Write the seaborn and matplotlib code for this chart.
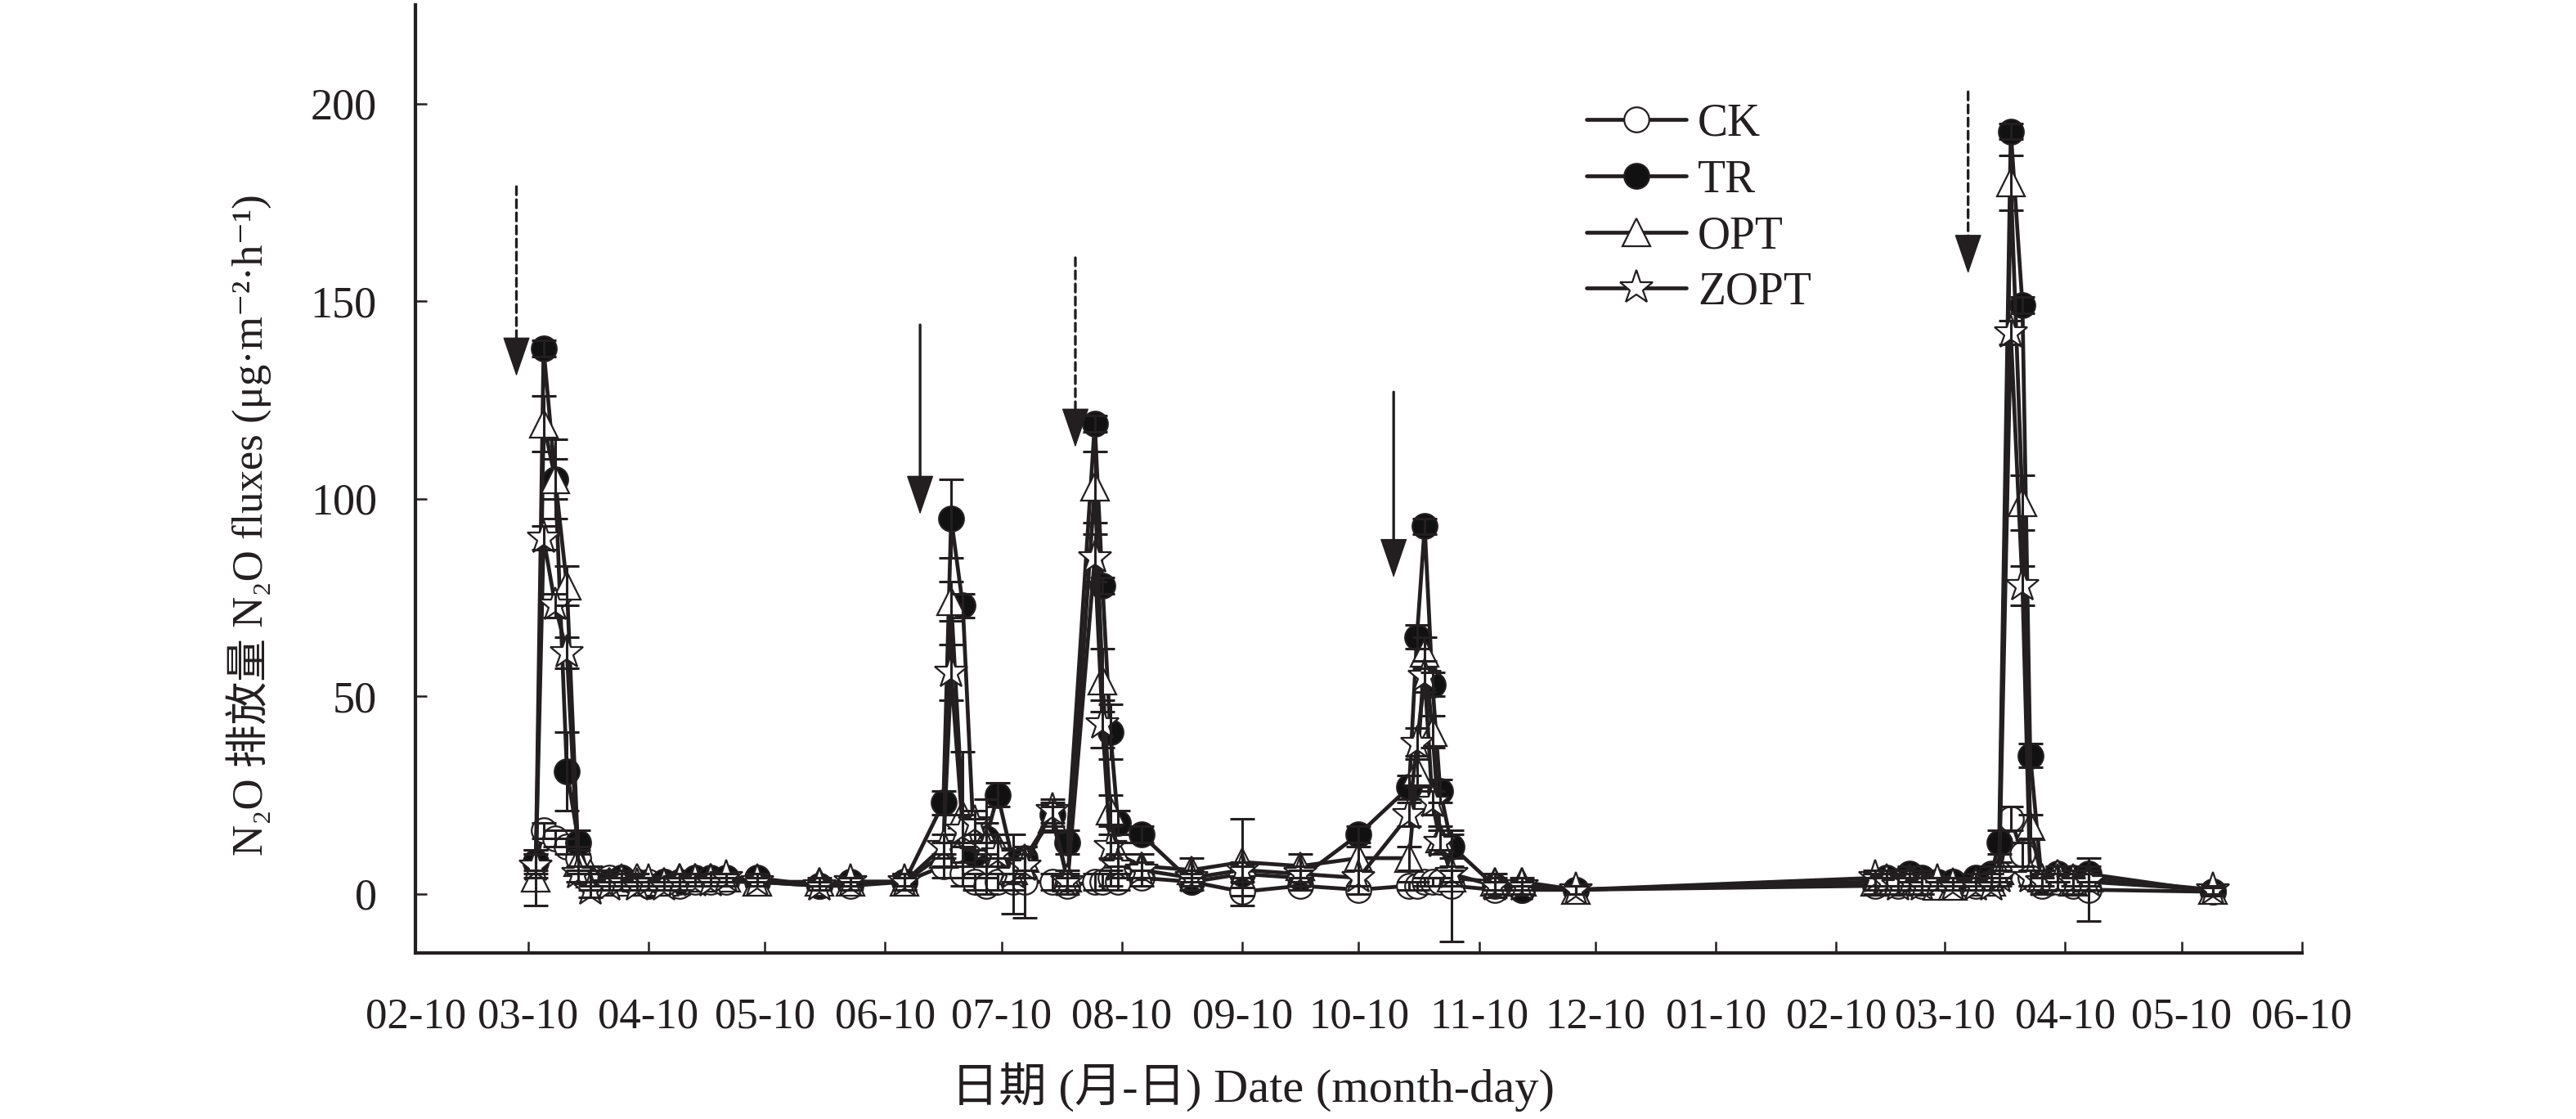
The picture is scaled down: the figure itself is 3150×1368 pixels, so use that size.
import pandas as pd
import matplotlib
matplotlib.use("Agg")
import matplotlib.pyplot as plt
import matplotlib.dates as mdates
import seaborn as sns

# sampling dates (2020-2021 season)
dates = ['2020-03-12', '2020-03-14', '2020-03-17', '2020-03-20', '2020-03-23', '2020-03-26',
         '2020-03-31', '2020-04-03', '2020-04-07', '2020-04-10', '2020-04-14', '2020-04-18',
         '2020-04-22', '2020-04-26', '2020-04-30', '2020-05-08', '2020-05-24', '2020-06-01',
         '2020-06-15', '2020-06-25', '2020-06-27', '2020-06-30', '2020-07-03', '2020-07-06',
         '2020-07-09', '2020-07-13', '2020-07-16', '2020-07-23', '2020-07-27', '2020-08-03',
         '2020-08-05', '2020-08-07', '2020-08-09', '2020-08-15', '2020-08-28', '2020-09-10',
         '2020-09-25', '2020-10-10', '2020-10-23', '2020-10-25', '2020-10-27', '2020-10-29',
         '2020-10-31', '2020-11-03', '2020-11-14', '2020-11-21', '2020-12-05', '2021-02-20',
         '2021-02-23', '2021-02-26', '2021-03-01', '2021-03-04', '2021-03-08', '2021-03-12',
         '2021-03-18', '2021-03-22', '2021-03-24', '2021-03-27', '2021-03-30', '2021-04-01',
         '2021-04-04', '2021-04-08', '2021-04-12', '2021-04-16', '2021-05-18']

# N2O fluxes, ug m-2 h-1
ck = [8, 16, 14, 12, 9, 4, 4, 4, 3, 3, 3, 2, 3, 3, 3, 3, 2, 2,
      3, 7, 10, 5, 3, 2, 3, 3, 3, 3, 2, 3, 3, 4, 3, 4, 3, 0.5,
      2, 1, 2, 2, 3, 3, 3, 2, 1, 1, 1, 2, 3, 2, 3, 2, 2, 3,
      2, 3, 5, 19, 10, 4, 2, 3, 2, 1, 0.5]
tr = [8, 138, 105, 31, 13, 3, 3, 4, 3, 2, 3, 3, 4, 4, 4, 4, 2, 3,
      3, 23, 95, 73, 10, 14, 25, 8, 9, 20, 13, 119, 78, 41, 18, 15, 3, 5,
      4, 15, 27, 65, 93, 53, 26, 12, 2, 1, 1, 3, 4, 3, 5, 4, 3, 3,
      4, 5, 13, 193, 149, 35, 3, 5, 4, 5, 0.5]
opt = [4, 119, 105, 78, 8, 5, 3, 3, 4, 3, 3, 4, 4, 4, 4, 3, 3, 3,
       3, 10, 74, 20, 15, 14, 12, 6, 9, 19, 4, 103, 54, 21, 10, 7, 6, 8,
       7, 9, 9, 31, 61, 41, 14, 4, 3, 3, 1, 3, 3, 3, 4, 3, 2, 2,
       3, 3, 6, 180, 99, 17, 4, 5, 3, 4, 1]
zopt = [7, 90, 73, 61, 5, 1, 2, 3, 2, 3, 2, 3, 3, 3, 4, 3, 2, 3,
        3, 12, 56, 16, 18, 12, 10, 5, 7, 21, 3, 85, 43, 12, 7, 6, 4, 6,
        5, 4, 20, 38, 55, 23, 13, 5, 2, 2, 1, 4, 3, 2, 3, 2, 3, 2,
        2, 2, 4, 142, 78, 4, 3, 3, 3, 3, 1]

# standard errors
ck_err = [3, 2, 2, 2, 3, 2, 2, 2, 1, 1, 1, 1, 1, 1, 1, 1, 1, 1,
          1, 3, 3, 3, 2, 2, 2, 2, 9, 2, 2, 2, 2, 2, 2, 2, 1, 1,
          1, 1, 1, 1, 1, 1, 1, 14, 2, 1, 1, 2, 2, 2, 2, 2, 1, 1,
          1, 2, 2, 3, 3, 2, 2, 2, 2, 8, 1]
tr_err = [2, 2, 10, 10, 3, 2, 1, 1, 1, 1, 1, 1, 1, 1, 1, 1, 1, 1,
          2, 3, 10, 3, 3, 4, 3, 3, 3, 3, 3, 2, 2, 7, 3, 2, 2, 2,
          2, 2, 3, 3, 2, 3, 3, 3, 2, 1, 1, 2, 2, 2, 2, 2, 1, 1,
          1, 2, 3, 2, 2, 3, 2, 2, 2, 2, 1]
opt_err = [7, 7, 5, 5, 3, 2, 2, 2, 1, 1, 1, 1, 1, 1, 1, 1, 1, 1,
           2, 3, 5, 16, 4, 10, 3, 3, 3, 3, 2, 9, 8, 4, 3, 3, 3, 11,
           3, 3, 3, 4, 4, 4, 3, 2, 2, 1, 1, 2, 2, 2, 2, 2, 1, 1,
           1, 2, 2, 7, 7, 3, 2, 2, 2, 2, 1]
zopt_err = [3, 3, 3, 4, 2, 2, 1, 1, 1, 1, 1, 1, 1, 1, 1, 1, 1, 1,
            2, 3, 7, 4, 3, 3, 3, 10, 3, 3, 2, 6, 6, 3, 3, 2, 2, 2,
            2, 2, 3, 4, 4, 3, 3, 2, 1, 1, 1, 2, 2, 2, 2, 2, 1, 1,
            1, 1, 2, 3, 5, 2, 2, 2, 2, 2, 1]

# fertilisation / event arrows
arrow_dates = ['2020-03-07', '2020-06-19', '2020-07-29', '2020-10-19', '2021-03-16']
arrow_top = [179, 144, 161, 127, 203]
arrow_tip = [131, 96, 113, 80, 157]
arrow_dashed = [True, False, True, False, True]

treatments = ['CK', 'TR', 'OPT', 'ZOPT']
values = [ck, tr, opt, zopt]
errors = [ck_err, tr_err, opt_err, zopt_err]
marker_styles = {'CK': ('o', 'white', 22), 'TR': ('o', '#111111', 22),
                 'OPT': ('^', 'white', 25), 'ZOPT': ('*', 'white', 31)}

ink = '#231f20'

sns.set_theme(style='ticks')
plt.rcParams['font.family'] = ['Liberation Serif', 'DejaVu Serif', 'Noto Sans CJK SC']
plt.rcParams['text.color'] = ink
plt.rcParams['axes.labelcolor'] = ink
plt.rcParams['xtick.color'] = ink
plt.rcParams['ytick.color'] = ink

x = pd.to_datetime(dates)

fig = plt.figure(figsize=(31.5, 13.68), dpi=100)
ax = fig.add_axes([0.1613, 0.1484, 0.7323, 0.8472])

handles = []
for name, vals in zip(treatments, values):
    m, fc, ms = marker_styles[name]
    sns.lineplot(x=x, y=vals, ax=ax, color=ink, lw=3.4, marker=m, ms=ms,
                 markerfacecolor=fc, markeredgecolor=ink, markeredgewidth=1.6,
                 estimator=None, label=name, zorder=2)
    handles.append(ax.lines[-1])

for vals, err in zip(values, errors):
    ax.errorbar(x, vals, yerr=err, fmt='none', ecolor=ink, elinewidth=2.2,
                capsize=11, capthick=2.2, zorder=3)

# arrows: shaft (dashed or solid) plus a solid filled head
for d, top, tip, dashed in zip(arrow_dates, arrow_top, arrow_tip, arrow_dashed):
    t = pd.Timestamp(d)
    ax.annotate('', xy=(t, tip + 6), xytext=(t, top),
                arrowprops=dict(arrowstyle='-', lw=2.4, color=ink,
                                linestyle=(0, (3, 1.8)) if dashed else '-',
                                shrinkA=0, shrinkB=0))
    ax.annotate('', xy=(t, tip), xytext=(t, tip + 9),
                arrowprops=dict(arrowstyle='-|>,head_length=1.6,head_width=0.55',
                                mutation_scale=20, lw=1, color=ink,
                                shrinkA=0, shrinkB=0))

ax.set_xlim(pd.Timestamp('2020-02-10'), pd.Timestamp('2021-06-10'))
ax.set_ylim(-15, 225)
ax.set_yticks([0, 50, 100, 150, 200])
ax.xaxis.set_major_locator(mdates.MonthLocator(bymonthday=10))
ax.xaxis.set_major_formatter(mdates.DateFormatter('%m-%d'))

sns.despine(ax=ax)
for s in ['left', 'bottom']:
    ax.spines[s].set_linewidth(3)
    ax.spines[s].set_color(ink)
ax.tick_params(axis='x', direction='in', length=10, width=1.8, labelsize=38, pad=39)
ax.tick_params(axis='y', direction='in', length=10, width=1.8, labelsize=39, pad=34)

ax.set_xlabel('日期 (月-日) Date (month-day)', fontsize=42)
ax.set_ylabel('N₂O 排放量 N₂O fluxes (μg·m⁻²·h⁻¹)', fontsize=38)
ax.xaxis.set_label_coords(0.444, -0.115)
ax.yaxis.set_label_coords(-0.0763, 0.452)

ax.legend(handles, treatments, loc='upper left', bbox_to_anchor=(0.6159, 0.908),
          bbox_transform=fig.transFigure, frameon=False, fontsize=40,
          handlelength=2.2, handletextpad=0.25, labelspacing=0.3,
          borderpad=0, borderaxespad=0)

fig.savefig('out.png', dpi=100)
